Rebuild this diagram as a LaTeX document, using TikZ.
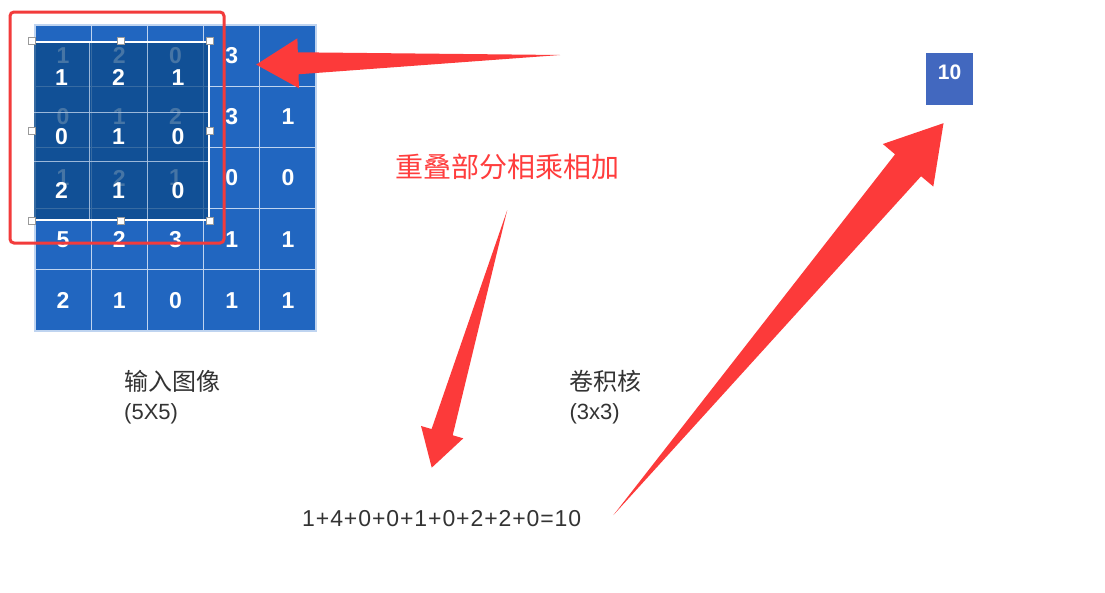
\documentclass[tikz,border=0pt]{standalone}
\usepackage{fontspec}
\usepackage{tikz}
\usetikzlibrary{calc,positioning,fit}
\newfontfamily\cjkfont{Noto Sans CJK SC}
\newfontfamily\latinfont{Liberation Sans}
\newfontfamily\eqfont[LetterSpace=4]{Liberation Sans}
\definecolor{Grid}{HTML}{2166C0}
\definecolor{GridLine}{HTML}{BFD4F0}
\definecolor{Kernel}{HTML}{0D4A8A}
\definecolor{KLine}{HTML}{A9C2E0}
\definecolor{Frame}{HTML}{F23B3B}
\definecolor{Arrow}{HTML}{FC3A3A}
\definecolor{Note}{HTML}{FF3D3D}
\definecolor{Ink}{HTML}{333333}
\definecolor{OutBox}{HTML}{4268BF}
\definecolor{Handle}{HTML}{9A9A9A}
\newcommand{\taperarrow}[5]{%
  \fill[arrowfill] (#1)
    -- ($(#2)!#3!(#1)!#5!90:(#1)$)
    -- ($(#2)!#3!(#1)!#4!90:(#1)$)
    -- (#2)
    -- ($(#2)!#3!(#1)!#4!-90:(#1)$)
    -- ($(#2)!#3!(#1)!#5!-90:(#1)$) -- cycle;}
\tikzset{
  cell/.style={draw=GridLine, line width=1.2pt, fill=Grid, minimum width=56.2pt,
               minimum height=61.2pt, inner sep=0pt, text=white,
               font=\latinfont\bfseries\fontsize{23}{23}\selectfont},
  kcell/.style={draw=KLine, draw opacity=0.7, line width=1pt, fill=Kernel,
                fill opacity=0.76, text opacity=1, inner sep=0pt, anchor=north west,
                text=white, font=\latinfont\bfseries\fontsize{23}{23}\selectfont},
  sel/.style={draw=white, line width=2.2pt, inner sep=0pt},
  handle/.style={draw=Handle, line width=0.4pt, fill=white, minimum size=7pt, inner sep=0pt},
  frame/.style={draw=Frame, line width=3pt, rounded corners=4pt},
  arrowfill/.style={fill=Arrow},
  lbl/.style={font=\cjkfont\fontsize{24}{29}\selectfont, text=Ink, align=left, inner sep=0pt},
  note/.style={font=\cjkfont\fontsize{28}{28}\selectfont, text=Note, inner sep=0pt},
  eqtext/.style={font=\eqfont\fontsize{23}{23}\selectfont, text=Ink, inner sep=0pt},
  outbox/.style={fill=OutBox, minimum width=47pt, minimum height=52pt, inner sep=0pt,
                 text=white, text depth=14pt,
                 font=\latinfont\bfseries\fontsize{21}{21}\selectfont},
}
\begin{document}
\begin{tikzpicture}[x=1pt, y=-1pt, node distance=10pt]
  \fill[white] (0,0) rectangle (1105,592);
  \useasboundingbox (0,0) rectangle (1105,592);
  \foreach \r/\vals in {1/{1,2,0,3,{}}, 2/{0,1,2,3,1}, 3/{1,2,1,0,0}, 4/{5,2,3,1,1}, 5/{2,1,0,1,1}}{
    \foreach \v [count=\c] in \vals
      \node[cell] (g-\r-\c) at ({35+56.2*(\c-0.5)},{25+61.2*(\r-0.5)}) {\v};
  }
  \foreach \r/\ya/\yb/\vals in {1/42/112/{1,2,1}, 2/112/161/{0,1,0}, 3/161/219/{2,1,0}}{
    \foreach \v [count=\c] in \vals {
      \pgfmathsetmacro\xa{{33,89,147}[\c-1]}
      \pgfmathsetmacro\kw{{56,58,61}[\c-1]}
      \pgfmathsetmacro\kh{\yb-\ya}
      \node[kcell, minimum width=\kw pt, minimum height=\kh pt] (k-\r-\c) at (\xa,\ya) {\v};
    }
  }
  \node[sel, fit=(k-1-1)(k-3-3)] (kernel) {};
  \foreach \a [count=\i] in {north west,north,north east,east,south east,south,south west,west}
    \node[handle] (hd\i) at (kernel.\a) {};
  \draw[frame] (10,12) rectangle (224,243);

  \node[note, anchor=west] (note) at (395,167) {重叠部分相乘相加};
  \node[eqtext, anchor=west] (eq) at (302,519) {1+4+0+0+1+0+2+2+0=10};
  \node[outbox] (out) at (949.5,79) {10};
  \node[lbl, anchor=north west] (inlbl) at (124,370) {输入图像\\{\latinfont\fontsize{22}{29}\selectfont (5X5)}};
  \node[lbl, right=349pt of inlbl] (klbl) {卷积核\\{\latinfont\fontsize{22}{29}\selectfont (3x3)}};

  \coordinate (tailA) at (560,55);
  \coordinate (tipA) at ($(g-1-5.west)+(-3,9)$);
  \coordinate (tailB) at ($(note.south)+(0,30)$);
  \coordinate (tipB) at ($(eq.north)+(-10,-43)$);
  \coordinate (tailC) at ($(eq.east)+(32,-4)$);
  \coordinate (tipC) at ($(out.south)+(-6,18)$);
  \taperarrow{tailA}{tipA}{42pt}{25pt}{11pt}
  \taperarrow{tailB}{tipB}{37pt}{22pt}{11pt}
  \taperarrow{tailC}{tipC}{55pt}{33pt}{17pt}
\end{tikzpicture}
\end{document}
